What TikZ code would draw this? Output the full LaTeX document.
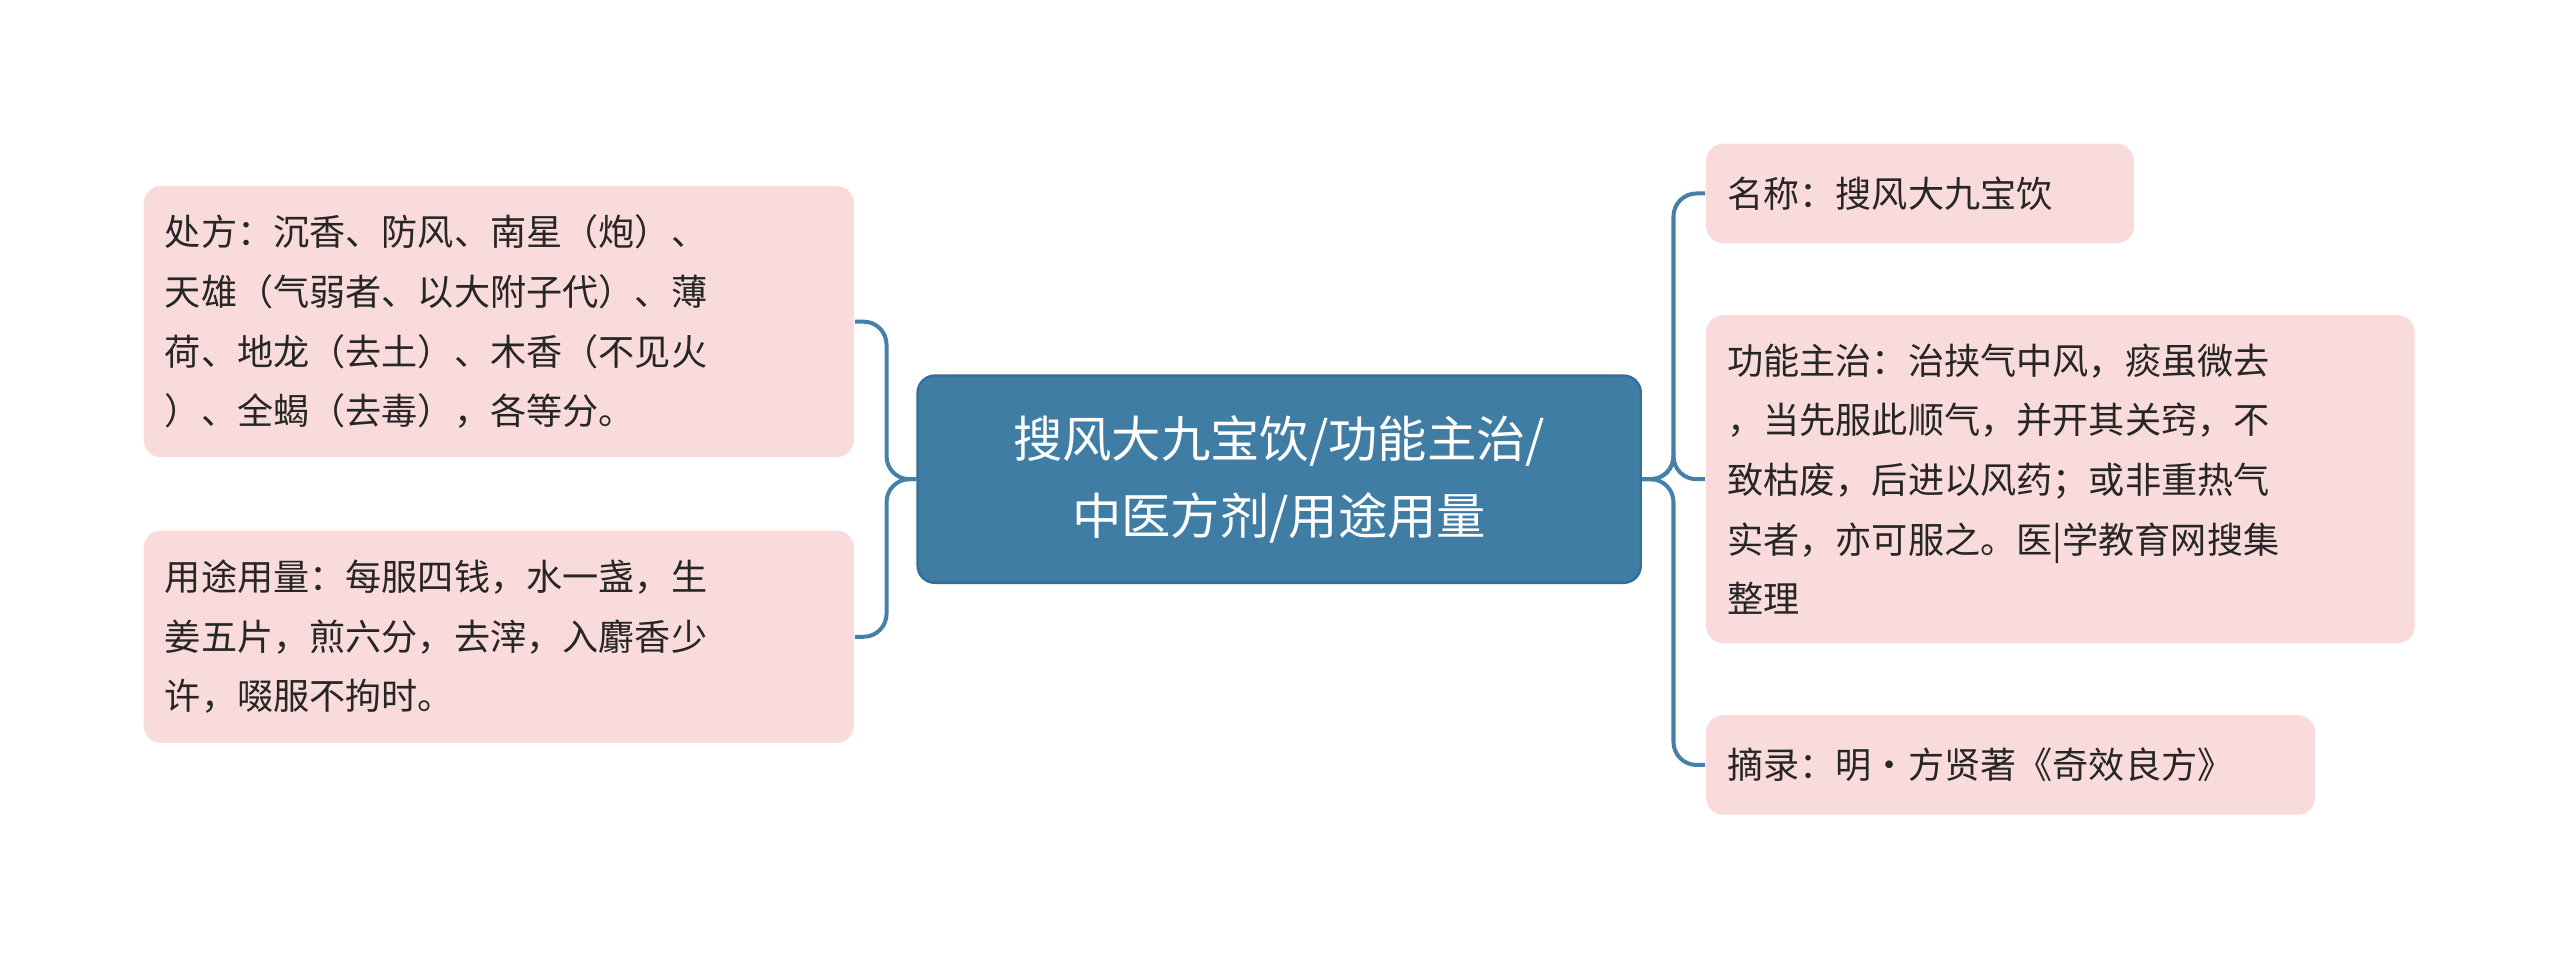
\documentclass[tikz,border=0pt]{standalone}
\usepackage{fontspec}
\setmainfont{Noto Sans CJK SC}
\usetikzlibrary{positioning}
\definecolor{RootBlue}{HTML}{3F7DA5}
\definecolor{RootEdge}{HTML}{356E94}
\definecolor{LeafPink}{HTML}{FADBDB}
\definecolor{LinkBlue}{HTML}{4680A8}
\begin{document}
\begin{tikzpicture}[
  root/.style={rectangle,rounded corners=3pt,draw=RootEdge,fill=RootBlue,text=white,
    align=center,font=\fontsize{8.6pt}{13.4pt}\selectfont,inner sep=0pt},
  leaf/.style={rectangle,rounded corners=3pt,fill=LeafPink,text=black!85,
    align=left,font=\fontsize{6.3pt}{10.4pt}\selectfont,inner xsep=0.13cm,inner ysep=0pt},
  link/.style={draw=LinkBlue,line width=0.7pt,rounded corners=4pt}
]
\useasboundingbox (0,0) rectangle (15.68,-5.88);

% Root
\node[root,minimum width=4.43cm,minimum height=1.27cm] (root) at (7.835,-2.935)
  {搜风大九宝饮/功能主治/\\中医方剂/用途用量};

% Left leaves
\node[leaf,minimum width=4.35cm,minimum height=1.66cm,text width=4.09cm] (recipe) at (3.055,-1.97)
  {处方：沉香、防风、南星（炮）、\\天雄（气弱者、以大附子代）、薄\\荷、地龙（去土）、木香（不见火\\）、全蝎（去毒），各等分。};
\node[leaf,minimum width=4.35cm,minimum height=1.30cm,text width=4.09cm] (usage) at (3.055,-3.90)
  {用途用量：每服四钱，水一盏，生\\姜五片，煎六分，去滓，入麝香少\\许，啜服不拘时。};

% Right leaves
\node[leaf,minimum width=2.62cm,minimum height=0.61cm,text width=2.36cm] (name) at (11.76,-1.185)
  {名称：搜风大九宝饮};
\node[leaf,minimum width=4.34cm,minimum height=2.01cm,text width=4.08cm] (effect) at (12.62,-2.935)
  {功能主治：治挟气中风，痰虽微去\\，当先服此顺气，并开其关窍，不\\致枯废，后进以风药；或非重热气\\实者，亦可服之。医|学教育网搜集\\整理};
\node[leaf,minimum width=3.73cm,minimum height=0.61cm,text width=3.47cm] (source) at (12.315,-4.685)
  {摘录：明·方贤著《奇效良方》};

% Links
\coordinate (lj) at (5.43,-2.935);
\coordinate (rj) at (10.25,-2.935);
\draw[link] (root.west) -- (lj) |- (recipe.east);
\draw[link] (root.west) -- (lj) |- (usage.east);
\draw[link] (root.east) -- (rj) |- (name.west);
\draw[link] (root.east) -- (rj) |- (effect.west);
\draw[link] (root.east) -- (rj) |- (source.west);

\end{tikzpicture}
\end{document}
